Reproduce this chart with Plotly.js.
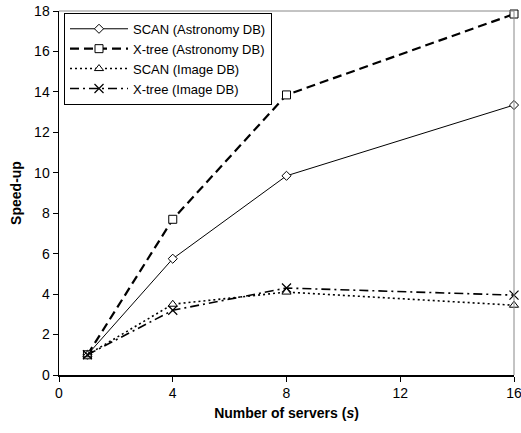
<!DOCTYPE html>
<html>
<head>
<meta charset="utf-8">
<script src="https://cdn.plot.ly/plotly-3.0.1.min.js"></script>
<style>html,body{margin:0;padding:0;background:#fff;}#chart{width:521px;height:433px;}</style>
</head>
<body>
<div id="chart"></div>
<script>
const servers = [1, 4, 8, 16];
const scanAstronomy = [1, 5.75, 9.85, 13.35];
const xtreeAstronomy = [1, 7.7, 13.85, 17.85];
const scanImage = [1, 3.5, 4.1, 3.45];
const xtreeImage = [1, 3.2, 4.3, 3.95];
const seriesNames = ['SCAN (Astronomy DB)', 'X-tree (Astronomy DB)', 'SCAN (Image DB)', 'X-tree (Image DB)'];
const xTicks = [0, 4, 8, 12, 16];
const yTicks = [0, 2, 4, 6, 8, 10, 12, 14, 16, 18];

const mk = (sym, size) => ({symbol: sym, size: size, color: '#fff', line: {color: '#000', width: 1}});
const traces = [
  {x: servers, y: scanAstronomy, name: seriesNames[0], mode: 'lines+markers',
   line: {color: '#000', width: 1, dash: 'solid'}, marker: mk('diamond', 7)},
  {x: servers, y: xtreeAstronomy, name: seriesNames[1], mode: 'lines+markers',
   line: {color: '#000', width: 2.2, dash: '9px,5px'}, marker: mk('square', 8)},
  {x: servers, y: scanImage, name: seriesNames[2], mode: 'lines+markers',
   line: {color: '#000', width: 1.6, dash: '2px,3px'}, marker: mk('triangle-up', 8)},
  {x: servers, y: xtreeImage, name: seriesNames[3], mode: 'lines+markers',
   line: {color: '#000', width: 1.6, dash: '9px,4px,2px,4px'}, marker: {symbol: 'x-thin-open', size: 9, color: '#000', line: {color: '#000', width: 1.2}}}
];
traces.forEach(t => { t.cliponaxis = false; });

const layout = {
  width: 521, height: 433,
  margin: {l: 59, r: 7, t: 11, b: 58},
  paper_bgcolor: '#fff', plot_bgcolor: '#fff',
  font: {family: 'Arial, "Liberation Sans", sans-serif', size: 14, color: '#000'},
  showlegend: true,
  legend: {x: 0.011, y: 0.995, xanchor: 'left', yanchor: 'top', bgcolor: '#fff',
           bordercolor: '#000', borderwidth: 1, font: {size: 13, color: '#000'},
           tracegroupgap: 0, itemwidth: 58},
  xaxis: {range: [0, 16], tickvals: xTicks, ticktext: xTicks.map(String), showgrid: false, zeroline: false,
          showline: true, linecolor: '#000', linewidth: 1.5, ticks: 'outside', ticklen: 5, tickcolor: '#000',
          tickfont: {size: 14}, fixedrange: true, ticklabeloverflow: 'allow',
          title: {text: '<b>Number of servers (<i>s</i>)</b>', font: {size: 14}, standoff: 8}},
  yaxis: {range: [0, 18], tickvals: yTicks, ticktext: yTicks.map(String), showgrid: false, zeroline: false,
          showline: true, linecolor: '#000', linewidth: 1.5, ticks: 'outside', ticklen: 5, tickcolor: '#000',
          tickfont: {size: 14}, fixedrange: true, ticklabeloverflow: 'allow',
          title: {text: '<b>Speed-up</b>', font: {size: 14}, standoff: 9}},
  shapes: [
    {type: 'line', xref: 'paper', yref: 'paper', x0: 0, x1: 1, y0: 1, y1: 1, line: {color: '#888', width: 1}},
    {type: 'line', xref: 'paper', yref: 'paper', x0: 1, x1: 1, y0: 0, y1: 1, line: {color: '#888', width: 1}}
  ]
};
Plotly.newPlot('chart', traces, layout, {displayModeBar: false, staticPlot: true});
</script>
</body>
</html>
